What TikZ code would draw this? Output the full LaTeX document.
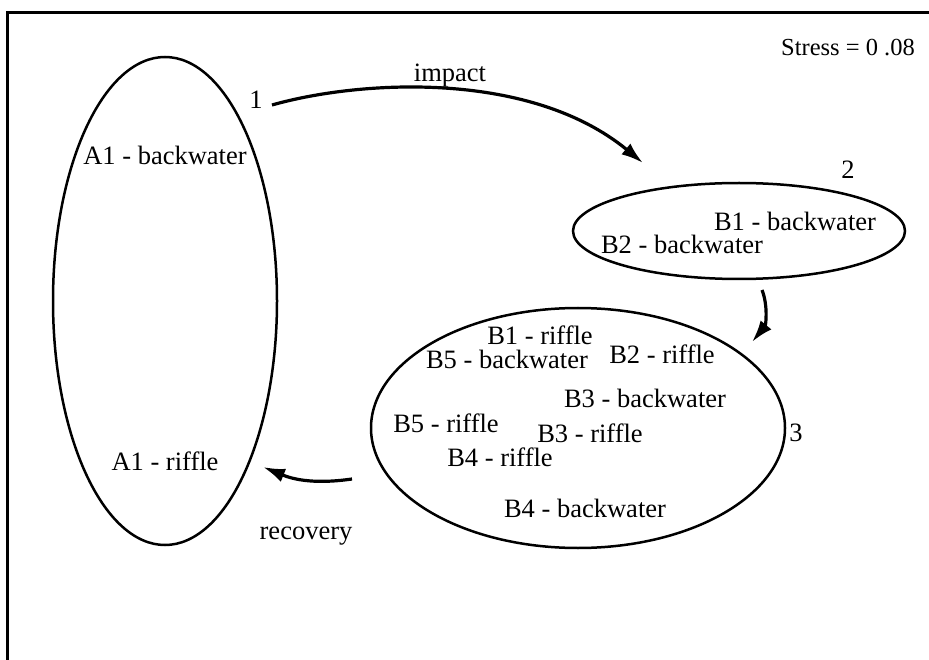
\documentclass[tikz,border=0pt]{standalone}
\usepackage{fontspec}
\setmainfont{Liberation Serif}
\usetikzlibrary{shapes.geometric,arrows.meta}
\begin{document}
\begin{tikzpicture}[x=1pt,y=-1pt,
  lbl/.style={inner sep=0pt,font=\fontsize{26.5}{30}\selectfont},
  group/.style={draw,ellipse,line width=2.5pt,inner sep=0pt},
  flow/.style={line width=3.2pt,-{Latex[length=22pt,width=14pt]}},
  frame/.style={line width=3pt}]
\useasboundingbox (0,0) rectangle (929,660);
% frame (top and left edges)
\draw[frame] (7,660) -- (7,13) -- (929,13);
\node[lbl,anchor=east,font=\fontsize{24.5}{28}\selectfont] (stress) at (915,48) {Stress = 0 .08};

% groups
\node[group,minimum width=224pt,minimum height=488pt] (e1) at (165,301) {};
\node[group,minimum width=332pt,minimum height=96pt] (e2) at (739,231) {};
\node[group,minimum width=414pt,minimum height=240pt] (e3) at (578,428) {};

\node[lbl] (n1) at (256,100) {1};
\node[lbl] (n2) at (848,170) {2};
\node[lbl] (n3) at (796,433) {3};

% group 1
\node[lbl] (a1b) at (165,155) {A1 - backwater};
\node[lbl] (a1r) at (165,461) {A1 - riffle};

% group 2
\node[lbl] (b1b) at (795,221) {B1 - backwater};
\node[lbl] (b2b) at (682,244) {B2 - backwater};

% group 3
\node[lbl] (b1r) at (540,335) {B1 - riffle};
\node[lbl] (b5b) at (507,359) {B5 - backwater};
\node[lbl] (b2r) at (662,354) {B2 - riffle};
\node[lbl] (b3b) at (645,398) {B3 - backwater};
\node[lbl] (b5r) at (446,423) {B5 - riffle};
\node[lbl] (b3r) at (590,433) {B3 - riffle};
\node[lbl] (b4r) at (500,457) {B4 - riffle};
\node[lbl] (b4b) at (585,508) {B4 - backwater};

% transitions
\coordinate (imp0) at (272,105);
\coordinate (imp1) at (643,163);
\coordinate (dn0) at (762,290);
\coordinate (dn1) at (752,342);
\coordinate (rec0) at (352,479);
\coordinate (rec1) at (263,467);

\node[lbl] (impact) at (450,76) {impact};
\node[lbl] (recovery) at (306,536) {recovery};

\draw[flow] (imp0) .. controls (360,80) and (530,70) .. (imp1);
\draw[flow] (dn0) .. controls (768,305) and (766,325) .. (dn1);
\draw[flow] (rec0) .. controls (310,485) and (290,478) .. (rec1);
\end{tikzpicture}
\end{document}
